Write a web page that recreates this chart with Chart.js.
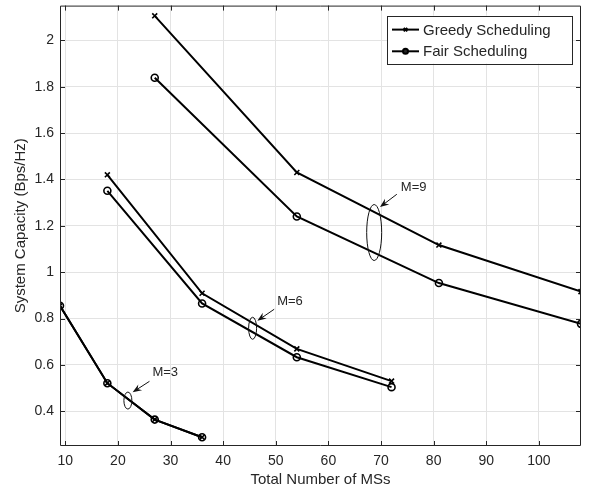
<!DOCTYPE html>
<html>
<head>
<meta charset="utf-8">
<script src="https://cdn.jsdelivr.net/npm/chart.js@4.4.1/dist/chart.umd.min.js"></script>
<style>
  html, body { margin: 0; padding: 0; background: #fff; }
  #wrap { width: 591px; height: 491px; }
</style>
</head>
<body>
<div id="wrap"><canvas id="cap" width="591" height="491"></canvas></div>
<script>
// number of MSs for each group of M
var msM3 = [9, 18, 27, 36];
var msM6 = [18, 36, 54, 72];
var msM9 = [27, 54, 81, 108];

// system capacity (Bps/Hz)
var greedyM3 = [0.855, 0.521, 0.364, 0.288];
var fairM3   = [0.855, 0.521, 0.364, 0.288];
var greedyM6 = [1.42, 0.909, 0.669, 0.53];
var fairM6   = [1.351, 0.865, 0.633, 0.504];
var greedyM9 = [2.106, 1.43, 1.117, 0.916];
var fairM9   = [1.839, 1.24, 0.953, 0.777];

var xTicks = [10, 20, 30, 40, 50, 60, 70, 80, 90, 100];
var yTicks = [0.4, 0.6, 0.8, 1, 1.2, 1.4, 1.6, 1.8, 2];

var seriesNames = ['Greedy Scheduling', 'Fair Scheduling'];

// M=.. labels, in data units (ellipse centre, text, arrow tail -> tip)
var notes = [
    { text: 'M=3', cx: 21.9, cy: 0.446, rx: 4, ry: 8.5, tx: 29.0, ty: 0.567, x0: 26.0, y0: 0.529, x1: 22.8, y1: 0.482 },
    { text: 'M=6', cx: 45.6, cy: 0.758, rx: 4, ry: 11, tx: 52.7, ty: 0.874, x0: 49.7, y0: 0.840, x1: 46.5, y1: 0.790 },
    { text: 'M=9', cx: 68.7, cy: 1.171, rx: 7.5, ry: 28, tx: 76.2, ty: 1.365, x0: 73.0, y0: 1.336, x1: 69.8, y1: 1.281 }
];

var axisColor = '#262626';
var FONT = "'Liberation Sans', Arial, Helvetica, sans-serif";

function pts(xs, ys) {
    var out = [];
    for (var i = 0; i < xs.length; i++) {
        out.push({ x: xs[i], y: ys[i] });
    }
    return out;
}

function greedySet(xs, ys, first) {
    return {
        label: first ? seriesNames[0] : '',
        data: pts(xs, ys),
        borderColor: '#000',
        borderWidth: 2,
        pointStyle: 'crossRot',
        pointRadius: 3.5,
        pointBorderWidth: 1.6,
        pointBorderColor: '#000',
        pointBackgroundColor: '#000',
        fill: false,
        tension: 0
    };
}

function fairSet(xs, ys, first) {
    return {
        label: first ? seriesNames[1] : '',
        data: pts(xs, ys),
        borderColor: '#000',
        borderWidth: 2,
        pointStyle: 'circle',
        pointRadius: 3.5,
        pointBorderWidth: 1.6,
        pointBorderColor: '#000',
        pointBackgroundColor: 'rgba(0,0,0,0)',
        fill: false,
        tension: 0
    };
}

// box round the axes + ticks pointing inward, like matlab
var boxPlugin = {
    id: 'boxPlugin',
    afterDatasetsDraw: function (chart) {
        var c = chart.ctx, a = chart.chartArea;
        var xs = chart.scales.x, ys = chart.scales.y;
        var L = 5;
        c.save();
        c.strokeStyle = axisColor;
        c.lineWidth = 1;
        c.beginPath();
        c.rect(a.left + 0.5, a.top + 0.5, a.right - a.left - 1, a.bottom - a.top - 1);
        xs.ticks.forEach(function (t) {
            var px = Math.round(xs.getPixelForValue(t.value)) + 0.5;
            c.moveTo(px, a.bottom); c.lineTo(px, a.bottom - L);
            c.moveTo(px, a.top); c.lineTo(px, a.top + L);
        });
        ys.ticks.forEach(function (t) {
            var py = Math.round(ys.getPixelForValue(t.value)) + 0.5;
            c.moveTo(a.left, py); c.lineTo(a.left + L, py);
            c.moveTo(a.right, py); c.lineTo(a.right - L, py);
        });
        c.stroke();
        c.restore();
    }
};

var notesPlugin = {
    id: 'notesPlugin',
    afterDatasetsDraw: function (chart) {
        var c = chart.ctx;
        var xs = chart.scales.x, ys = chart.scales.y;
        c.save();
        notes.forEach(function (n) {
            var cx = xs.getPixelForValue(n.cx), cy = ys.getPixelForValue(n.cy);
            c.strokeStyle = '#111';
            c.lineWidth = 1;
            c.beginPath();
            c.ellipse(cx, cy, n.rx, n.ry, 0, 0, Math.PI * 2);
            c.stroke();

            var ax = xs.getPixelForValue(n.x0), ay = ys.getPixelForValue(n.y0);
            var bx = xs.getPixelForValue(n.x1), by = ys.getPixelForValue(n.y1);
            var ang = Math.atan2(by - ay, bx - ax);
            c.beginPath();
            c.moveTo(ax, ay);
            c.lineTo(bx - 5 * Math.cos(ang), by - 5 * Math.sin(ang));
            c.stroke();
            // arrow head
            c.fillStyle = '#111';
            c.beginPath();
            c.moveTo(bx, by);
            c.lineTo(bx - 9 * Math.cos(ang) + 3.5 * Math.sin(ang), by - 9 * Math.sin(ang) - 3.5 * Math.cos(ang));
            c.lineTo(bx - 6 * Math.cos(ang), by - 6 * Math.sin(ang));
            c.lineTo(bx - 9 * Math.cos(ang) - 3.5 * Math.sin(ang), by - 9 * Math.sin(ang) + 3.5 * Math.cos(ang));
            c.closePath();
            c.fill();

            c.fillStyle = axisColor;
            c.font = '13px ' + FONT;
            c.textAlign = 'center';
            c.textBaseline = 'middle';
            c.fillText(n.text, xs.getPixelForValue(n.tx), ys.getPixelForValue(n.ty));
        });
        c.restore();
    }
};

// legend box in the top right corner
var legendPlugin = {
    id: 'legendPlugin',
    afterDraw: function (chart) {
        var c = chart.ctx, a = chart.chartArea;
        var w = 185, h = 48;
        var x = a.right - 9 - w, y = a.top + 10;
        c.save();
        c.fillStyle = '#fff';
        c.fillRect(x, y, w, h);
        c.strokeStyle = axisColor;
        c.lineWidth = 1;
        c.strokeRect(Math.round(x) + 0.5, Math.round(y) + 0.5, w, h);

        [0, 1].forEach(function (i) {
            var ds = chart.data.datasets[i];
            var ry = y + 14 + i * 21.7;
            c.strokeStyle = '#000';
            c.lineWidth = 2;
            c.beginPath();
            c.moveTo(x + 5, ry); c.lineTo(x + 32, ry);
            c.stroke();
            Chart.helpers.drawPoint(c, {
                pointStyle: ds.pointStyle,
                radius: 2.5,
                borderWidth: 1.5
            }, x + 18.5, ry);
            c.fillStyle = axisColor;
            c.font = '15px ' + FONT;
            c.textAlign = 'left';
            c.textBaseline = 'middle';
            c.fillText(seriesNames[i], x + 36, ry + 1);
        });
        c.restore();
    }
};

var ctx = document.getElementById('cap').getContext('2d');
var chart = new Chart(ctx, {
    type: 'line',
    data: {
        datasets: [
            greedySet(msM9, greedyM9, true),
            fairSet(msM9, fairM9, true),
            greedySet(msM6, greedyM6, false),
            fairSet(msM6, fairM6, false),
            greedySet(msM3, greedyM3, false),
            fairSet(msM3, fairM3, false)
        ]
    },
    options: {
        responsive: false,
        animation: false,
        layout: { padding: { top: 4, right: 10, left: 0, bottom: 0 } },
        plugins: {
            legend: { display: false },
            tooltip: { enabled: false }
        },
        scales: {
            x: {
                type: 'linear',
                min: 9,
                max: 108,
                afterBuildTicks: function (s) {
                    s.ticks = xTicks.map(function (v) { return { value: v }; });
                },
                afterFit: function (s) {
                    s.height = 45;
                    s.paddingLeft = 0; s.paddingRight = 0;
                },
                grid: { color: '#e3e3e3', drawTicks: false },
                border: { display: false },
                ticks: {
                    color: axisColor,
                    padding: 7,
                    maxRotation: 0,
                    autoSkip: false,
                    font: { family: FONT, size: 14 },
                    callback: function (v) { return String(v); }
                },
                title: {
                    display: true,
                    text: 'Total Number of MSs',
                    color: axisColor,
                    font: { family: FONT, size: 15 },
                    padding: { top: 0, bottom: 2 }
                }
            },
            y: {
                type: 'linear',
                min: 0.25,
                max: 2.15,
                afterBuildTicks: function (s) {
                    s.ticks = yTicks.map(function (v) { return { value: v }; });
                },
                afterFit: function (s) {
                    s.width = 60;
                    s.paddingTop = 0; s.paddingBottom = 0;
                },
                grid: { color: '#e3e3e3', drawTicks: false },
                border: { display: false },
                ticks: {
                    color: axisColor,
                    padding: 6,
                    autoSkip: false,
                    font: { family: FONT, size: 14 },
                    callback: function (v) { return String(+v.toFixed(1)); }
                },
                title: {
                    display: true,
                    text: 'System Capacity (Bps/Hz)',
                    color: axisColor,
                    font: { family: FONT, size: 15 },
                    padding: { top: 12, bottom: 0 }
                }
            }
        }
    },
    plugins: [boxPlugin, notesPlugin, legendPlugin]
});
</script>
</body>
</html>
